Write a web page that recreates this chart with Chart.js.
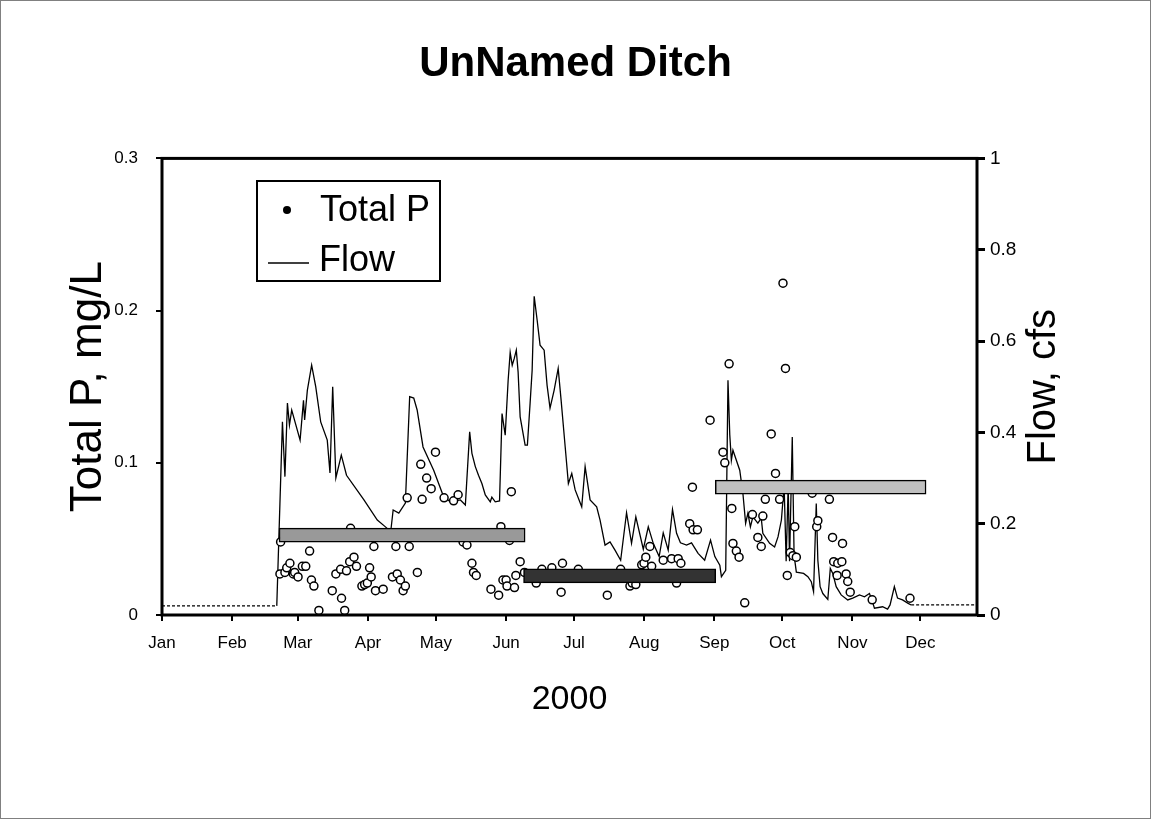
<!DOCTYPE html>
<html>
<head>
<meta charset="utf-8">
<title>UnNamed Ditch</title>
<script src="https://cdn.jsdelivr.net/npm/chart.js@4/dist/chart.umd.min.js"></script>
<style>
  html, body { margin: 0; padding: 0; background: #fff; }
  canvas { display: block; }
</style>
</head>
<body>
<canvas id="ditch" width="1151" height="819"></canvas>
<script>
'use strict';
const FONT = "'Liberation Sans', Arial, sans-serif";

// x axis: day of year 2000 (leap year), ticks at the first of each month
const monthStarts = [0, 31, 60, 91, 121, 152, 182, 213, 244, 274, 305, 335];
const monthLabels = ['Jan', 'Feb', 'Mar', 'Apr', 'May', 'Jun', 'Jul', 'Aug', 'Sep', 'Oct', 'Nov', 'Dec'];

// Total P samples (day of year, mg/L)
const sampleDay = [
  52.1, 52.4, 54.3, 55.1, 56.5, 58.0, 58.6, 60.1, 62.0, 63.5, 65.2, 66.0, 67.1, 69.3, 75.2,
  76.8, 78.9, 79.3, 80.7, 81.5, 82.9, 83.3, 84.8, 85.9, 88.3, 89.5, 90.7, 91.7, 92.4, 93.6,
  94.3, 97.7, 101.8, 103.3, 103.9, 105.3, 106.5, 107.5, 108.3, 109.2, 112.8, 114.3, 114.9, 116.9, 118.9,
  120.8, 124.6, 128.8, 130.8, 133.0, 134.7, 136.9, 137.6, 138.8, 145.3, 148.7, 149.7, 150.6, 152.0, 152.4,
  153.5, 154.3, 155.7, 156.3, 158.2, 160.1, 165.3, 167.8, 172.2, 176.3, 176.9, 183.9, 196.7, 202.6, 206.7,
  207.7, 209.3, 211.9, 212.9, 213.7, 215.5, 216.3, 221.4, 225.1, 227.3, 228.0, 229.2, 233.1, 234.3, 234.6,
  236.5, 242.1, 247.8, 248.6, 250.5, 251.7, 252.2, 253.7, 254.9, 257.4, 260.8, 263.2, 264.7, 265.4, 266.5,
  269.1, 271.0, 272.8, 274.3, 275.4, 276.2, 277.5, 278.7, 279.5, 280.2, 287.2, 289.2, 289.7, 294.8, 296.2,
  296.7, 298.2, 298.5, 300.3, 300.6, 302.2, 302.9, 304.0, 313.7, 330.4
];
const totalP = [
  0.027, 0.048, 0.028, 0.031, 0.034, 0.027, 0.028, 0.025, 0.032, 0.032, 0.042, 0.023, 0.019, 0.003, 0.016,
  0.027, 0.030, 0.011, 0.003, 0.029, 0.035, 0.057, 0.038, 0.032, 0.019, 0.020, 0.021, 0.031, 0.025, 0.045,
  0.016, 0.017, 0.025, 0.045, 0.027, 0.023, 0.016, 0.019, 0.077, 0.045, 0.028, 0.099, 0.076, 0.090, 0.083,
  0.107, 0.077, 0.075, 0.079, 0.048, 0.046, 0.034, 0.028, 0.026, 0.017, 0.013, 0.058, 0.023, 0.023, 0.019,
  0.049, 0.081, 0.018, 0.026, 0.035, 0.028, 0.021, 0.030, 0.031, 0.015, 0.034, 0.030, 0.013, 0.030, 0.019,
  0.021, 0.020, 0.033, 0.034, 0.038, 0.045, 0.032, 0.036, 0.037, 0.021, 0.037, 0.034, 0.060, 0.084, 0.056,
  0.056, 0.128, 0.107, 0.100, 0.165, 0.070, 0.047, 0.042, 0.038, 0.008, 0.066, 0.051, 0.045, 0.065, 0.076,
  0.119, 0.093, 0.076, 0.218, 0.162, 0.026, 0.041, 0.039, 0.058, 0.038, 0.080, 0.058, 0.062, 0.076, 0.051,
  0.035, 0.026, 0.034, 0.035, 0.047, 0.027, 0.022, 0.015, 0.010, 0.011
];

// Flow record (day of year, cfs)
const flowDay = [
  0, 50.7, 53.2, 54.3, 55.4, 56.3, 57.3, 61.0, 62.5, 63.0, 64.2, 66.1, 67.9, 70.1, 73.0,
  74.2, 75.4, 76.8, 79.2, 81.5, 89.2, 95.1, 98.7, 100.2, 101.2, 102.1, 104.6, 107.5, 109.4, 111.2,
  112.7, 115.3, 120.0, 124.4, 127.4, 131.8, 134.0, 135.9, 136.9, 138.4, 139.8, 141.3, 142.8, 145.0, 145.7,
  147.2, 149.1, 150.2, 151.6, 152.9, 153.8, 154.7, 155.6, 156.5, 157.3, 158.2, 160.4, 161.4, 162.6, 163.5,
  164.4, 165.7, 167.0, 168.8, 170.1, 171.4, 173.2, 175.0, 176.3, 178.1, 179.5, 181.0, 182.5, 185.4, 186.9,
  189.1, 192.0, 193.5, 195.7, 197.9, 200.1, 202.6, 205.2, 207.4, 209.3, 212.6, 214.8, 217.0, 219.6, 221.4,
  223.6, 225.5, 227.3, 229.0, 231.7, 233.9, 236.8, 239.7, 242.3, 244.2, 246.4, 247.1, 249.0, 250.0, 250.8,
  251.5, 252.2, 255.2, 256.6, 257.8, 258.8, 259.9, 261.0, 263.2, 264.7, 265.4, 268.4, 270.6, 272.1, 273.6,
  274.8, 275.7, 276.6, 277.2, 278.4, 279.2, 280.2, 283.4, 285.3, 286.8, 287.8, 289.0, 289.7, 290.7, 291.9,
  294.1, 295.2, 296.3, 297.8, 300.0, 302.9, 305.1, 308.1, 310.3, 312.5, 314.0, 314.7, 318.3, 320.5, 321.6,
  323.5, 324.9, 327.1, 329.4, 330.9, 360
];
const flowCfs = [
  0.020, 0.020, 0.423, 0.303, 0.464, 0.416, 0.449, 0.383, 0.470, 0.427, 0.492, 0.547, 0.500, 0.423, 0.383,
  0.311, 0.500, 0.300, 0.350, 0.306, 0.252, 0.208, 0.193, 0.186, 0.190, 0.230, 0.223, 0.245, 0.478, 0.475,
  0.449, 0.368, 0.317, 0.259, 0.248, 0.252, 0.241, 0.401, 0.354, 0.325, 0.306, 0.288, 0.263, 0.248, 0.258,
  0.248, 0.250, 0.441, 0.394, 0.514, 0.575, 0.547, 0.562, 0.580, 0.532, 0.434, 0.372, 0.372, 0.464, 0.536,
  0.698, 0.646, 0.591, 0.580, 0.503, 0.453, 0.492, 0.540, 0.470, 0.368, 0.288, 0.310, 0.274, 0.237, 0.325,
  0.252, 0.237, 0.208, 0.153, 0.160, 0.142, 0.120, 0.224, 0.157, 0.215, 0.144, 0.193, 0.157, 0.128, 0.180,
  0.142, 0.231, 0.179, 0.158, 0.153, 0.158, 0.135, 0.120, 0.164, 0.128, 0.109, 0.084, 0.098, 0.514, 0.394,
  0.339, 0.361, 0.317, 0.266, 0.201, 0.223, 0.193, 0.215, 0.201, 0.212, 0.179, 0.157, 0.149, 0.171, 0.208,
  0.284, 0.118, 0.284, 0.118, 0.390, 0.131, 0.094, 0.091, 0.084, 0.073, 0.051, 0.244, 0.120, 0.062, 0.047,
  0.034, 0.102, 0.091, 0.062, 0.044, 0.033, 0.037, 0.044, 0.040, 0.047, 0.026, 0.015, 0.018, 0.013, 0.022,
  0.062, 0.037, 0.033, 0.026, 0.022, 0.022
];

// period mean Total P (start day, end day, mg/L)
const periodStart = [51.7, 159.7, 244.4];
const periodEnd = [160.4, 244.6, 337.5];
const periodMean = [0.0525, 0.0257, 0.084];
const periodColors = ['#999999', '#333333', '#c0c0c0'];

const framePlugin = {
  id: 'frame',
  beforeDraw(chart) {
    const { ctx, width, height } = chart;
    ctx.save();
    ctx.fillStyle = '#fff';
    ctx.fillRect(0, 0, width, height);
    ctx.strokeStyle = '#808080';
    ctx.lineWidth = 1;
    ctx.strokeRect(0.5, 0.5, width - 1, height - 1);
    ctx.restore();
  },
  afterDraw(chart) {
    const { ctx, chartArea: a } = chart;
    ctx.save();
    ctx.strokeStyle = '#000';
    ctx.lineWidth = 3;
    ctx.strokeRect(a.left, a.top, a.right - a.left, a.bottom - a.top);

    // right axis title reads bottom to top
    ctx.save();
    ctx.font = `40px ${FONT}`;
    ctx.fillStyle = '#000';
    ctx.textAlign = 'center';
    ctx.textBaseline = 'middle';
    ctx.translate(1044, (a.top + a.bottom) / 2);
    ctx.rotate(-Math.PI / 2);
    ctx.fillText('Flow, cfs', 0, 0);
    ctx.restore();

    // legend box
    ctx.fillStyle = '#fff';
    ctx.fillRect(257, 181, 183, 100);
    ctx.lineWidth = 2;
    ctx.strokeRect(257, 181, 183, 100);
    ctx.fillStyle = '#000';
    ctx.beginPath();
    ctx.arc(287, 210, 4, 0, Math.PI * 2);
    ctx.fill();
    ctx.lineWidth = 1.5;
    ctx.beginPath();
    ctx.moveTo(268, 263);
    ctx.lineTo(309, 263);
    ctx.stroke();
    ctx.font = `36px ${FONT}`;
    ctx.textAlign = 'left';
    ctx.textBaseline = 'middle';
    ctx.fillText('Total P', 320, 211);
    ctx.fillText('Flow', 319, 261);
    ctx.restore();
  },
};

Chart.defaults.font.family = FONT;
Chart.defaults.color = '#000';

const ctx = document.getElementById('ditch').getContext('2d');
const ditchChart = new Chart(ctx, {
  type: 'line',
  data: {
    datasets: [
      {
        type: 'bar',
        label: 'Period mean',
        indexAxis: 'y',
        xAxisID: 'x',
        yAxisID: 'y',
        data: periodStart.map((s, i) => ({ x: [s, periodEnd[i]], y: periodMean[i] })),
        backgroundColor: periodColors,
        borderColor: '#000',
        borderWidth: 1.5,
        borderSkipped: false,
        barThickness: 14,
        grouped: false,
      },
      {
        type: 'line',
        label: 'Total P',
        xAxisID: 'x',
        yAxisID: 'y',
        data: sampleDay.map((d, i) => ({ x: d, y: totalP[i] })),
        showLine: false,
        pointRadius: 4,
        pointBorderWidth: 1.5,
        pointBackgroundColor: '#fff',
        pointBorderColor: '#000',
      },
      {
        type: 'line',
        label: 'Flow',
        xAxisID: 'x',
        yAxisID: 'y1',
        data: flowDay.map((d, i) => ({ x: d, y: flowCfs[i] })),
        borderColor: '#000',
        borderWidth: 1.3,
        pointRadius: 0,
        tension: 0,
        segment: {
          borderDash: (c) =>
            c.p1.parsed.x <= 51 || c.p0.parsed.x >= 330 ? [3, 2] : undefined,
        },
      },
    ],
  },
  options: {
    responsive: false,
    animation: false,
    events: [],
    layout: { padding: 0 },
    plugins: {
      legend: { display: false },
      tooltip: { enabled: false },
      title: {
        display: true,
        text: 'UnNamed Ditch',
        color: '#000',
        font: { size: 42, weight: 'bold' },
        padding: { top: 39, bottom: 69 },
      },
    },
    scales: {
      x: {
        type: 'linear',
        position: 'bottom',
        min: 0,
        max: 360,
        afterBuildTicks: (scale) => {
          scale.ticks = monthStarts.map((v) => ({ value: v }));
        },
        afterFit: (scale) => {
          scale.height = 204;
        },
        ticks: {
          autoSkip: false,
          maxRotation: 0,
          padding: 12,
          font: { size: 17 },
          callback: (value) => monthLabels[monthStarts.indexOf(value)],
        },
        grid: { drawOnChartArea: false, tickLength: 6, color: '#000', lineWidth: 2 },
        border: { display: false },
        title: {
          display: true,
          text: '2000',
          font: { size: 34 },
          padding: { top: 0, bottom: 99 },
        },
      },
      y: {
        type: 'linear',
        position: 'left',
        min: 0,
        max: 0.3,
        offset: false,
        afterFit: (scale) => {
          scale.width = 162;
        },
        ticks: {
          stepSize: 0.1,
          padding: 18,
          font: { size: 17 },
          callback: (value) => String(Math.round(value * 10) / 10),
        },
        grid: { offset: false, drawOnChartArea: false, tickLength: 6, color: '#000', lineWidth: 2 },
        border: { display: false },
        title: {
          display: true,
          text: 'Total P, mg/L',
          font: { size: 44 },
          padding: { top: 62, bottom: 0 },
        },
      },
      y1: {
        type: 'linear',
        position: 'right',
        min: 0,
        max: 1,
        afterFit: (scale) => {
          scale.width = 174;
        },
        ticks: {
          stepSize: 0.2,
          padding: 5,
          font: { size: 19 },
          callback: (value) => String(Math.round(value * 10) / 10),
        },
        grid: { drawOnChartArea: false, tickLength: 8, color: '#000', lineWidth: 3 },
        border: { display: false },
      },
    },
  },
  plugins: [framePlugin],
});
</script>
</body>
</html>
